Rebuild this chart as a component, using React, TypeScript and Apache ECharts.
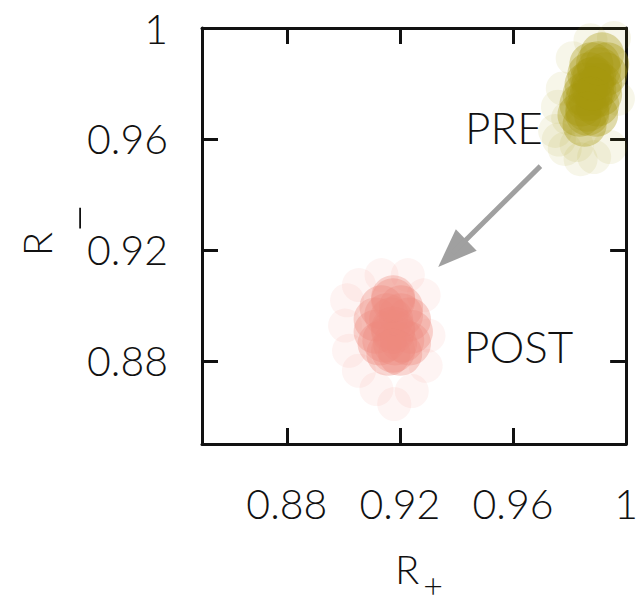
import React, { useEffect, useRef } from "react";
import * as echarts from "echarts";

const tickValues = [0.88, 0.92, 0.96, 1];
const axisRange = [0.85, 1.0];

// PRE cloud: dense core and faint halo
const preCore: [number, number][] = [
  [0.9915, 0.9905],
  [0.9877, 0.9869], [0.9933, 0.9869],
  [0.987, 0.9833], [0.9926, 0.9833],
  [0.986, 0.9796], [0.9908, 0.9796],
  [0.9853, 0.976], [0.9908, 0.976],
  [0.9842, 0.9724], [0.9898, 0.9724],
  [0.9835, 0.9687], [0.9894, 0.9687],
  [0.9853, 0.9651],
  [0.9905, 0.9851], [0.9887, 0.9778], [0.9863, 0.9705], [0.988, 0.9815], [0.9863, 0.9742],
  [0.9887, 0.9818], [0.9874, 0.9745], [0.9863, 0.9691], [0.9901, 0.9873], [0.988, 0.9782],
];
const preHalo: [number, number][] = [
  [0.9759, 0.9716], [0.9749, 0.9629], [0.9783, 0.9564], [0.9839, 0.9527],
  [0.9887, 0.9535], [0.9943, 0.9571], [0.9957, 0.9964], [0.9874, 0.9956],
  [0.9811, 0.9891], [0.9776, 0.9782], [0.9971, 0.9745], [0.9825, 0.9578],
  [0.9795, 0.9675], [0.9762, 0.9598],
];

// POST cloud
const postCore: [number, number][] = [
  [0.9176, 0.9029],
  [0.9135, 0.8993], [0.9204, 0.8993],
  [0.9114, 0.8949], [0.9169, 0.8949], [0.9232, 0.8949],
  [0.9114, 0.8905], [0.9176, 0.8905], [0.9239, 0.8905],
  [0.9128, 0.8862], [0.9183, 0.8862], [0.9232, 0.8862],
  [0.9159, 0.8825], [0.9201, 0.8825],
  [0.9152, 0.8964], [0.9204, 0.8964], [0.9145, 0.8873], [0.9208, 0.8873],
  [0.9176, 0.8916], [0.9176, 0.9018], [0.9176, 0.8836],
];
const postHalo: [number, number][] = [
  [0.9013, 0.9018], [0.9006, 0.8927], [0.902, 0.8836], [0.9055, 0.8764],
  [0.9117, 0.8698], [0.918, 0.8644], [0.9242, 0.8691], [0.9291, 0.8782],
  [0.9301, 0.8891], [0.9284, 0.9036], [0.9228, 0.9109], [0.9135, 0.9109],
  [0.9055, 0.9073],
];

// arrow from PRE toward POST
const arrowStart: [number, number] = [0.9697, 0.9502];
const arrowHead: [number, number] = [0.9385, 0.9187];

const FONT = "Lato";
const WEIGHT = 300;

export default function App() {
  const ref = useRef<HTMLDivElement>(null);
  useEffect(() => {
    if (!ref.current) return;
    const chart = echarts.init(ref.current, null, { renderer: "svg" });
    const axisCommon = {
      type: "value" as const,
      min: axisRange[0],
      max: axisRange[1],
      splitLine: { show: false },
      axisLine: { show: true, onZero: false, lineStyle: { color: "#111", width: 3 } },
      axisTick: {
        show: true,
        inside: true,
        length: 16,
        lineStyle: { color: "#111", width: 3 },
        customValues: tickValues,
      },
    };
    const labelCommon = {
      show: true,
      customValues: tickValues,
      fontFamily: FONT,
      fontWeight: WEIGHT,
      fontSize: 41,
      color: "#111",
      formatter: (v: number) => String(v),
    };
    const txt = (text: string, x: number, y: number, size: number, align: string, rot = 0) => ({
      type: "text",
      x,
      y,
      rotation: rot,
      style: {
        text,
        fontFamily: FONT,
        fontWeight: WEIGHT,
        fontSize: size,
        fill: "#111",
        verticalAlign: "middle",
        align,
      },
    });
    chart.setOption({
      animation: false,
      grid: { left: 202, right: 6, top: 28, bottom: 160, containLabel: false },
      xAxis: [
        { ...axisCommon, position: "bottom", axisLabel: { ...labelCommon, margin: 39 } },
        { ...axisCommon, position: "top", axisLabel: { show: false } },
      ],
      yAxis: [
        { ...axisCommon, position: "left", axisLabel: { ...labelCommon, margin: 34 } },
        { ...axisCommon, position: "right", axisLabel: { show: false } },
      ],
      series: [
        {
          type: "scatter",
          data: preHalo,
          symbolSize: 34,
          itemStyle: { color: "#A6980E", opacity: 0.09 },
          clip: true,
          silent: true,
        },
        {
          type: "scatter",
          data: preCore,
          symbolSize: 44,
          itemStyle: { color: "#A6980E", opacity: 0.35 },
          clip: true,
          silent: true,
        },
        {
          type: "scatter",
          data: postHalo,
          symbolSize: 34,
          itemStyle: { color: "#EF8A7E", opacity: 0.09 },
          clip: true,
          silent: true,
        },
        {
          type: "scatter",
          data: postCore,
          symbolSize: 44,
          itemStyle: { color: "#EF8A7E", opacity: 0.35 },
          clip: true,
          silent: true,
        },
        {
          type: "line",
          data: [arrowStart, arrowHead],
          symbol: "none",
          lineStyle: { color: "#A0A0A0", width: 5 },
          silent: true,
        },
        {
          type: "scatter",
          data: [arrowHead],
          symbol: "triangle",
          symbolSize: [30, 39],
          symbolRotate: 134,
          itemStyle: { color: "#A0A0A0", opacity: 1 },
          silent: true,
        },
      ],
      graphic: [
        txt("PRE", 465, 127, 44, "left"),
        txt("POST", 464, 346, 44, "left"),
        txt("R", 395, 569, 40, "left"),
        txt("+", 433, 584, 34, "center"),
        txt("R", 37, 244, 40, "center", Math.PI / 2),
        txt("\u2212", 78, 218, 50, "center", Math.PI / 2),
      ],
    });
    return () => chart.dispose();
  }, []);
  return <div ref={ref} style={{ width: 641, height: 604, position: "absolute", left: 0, top: 0 }} />;
}
